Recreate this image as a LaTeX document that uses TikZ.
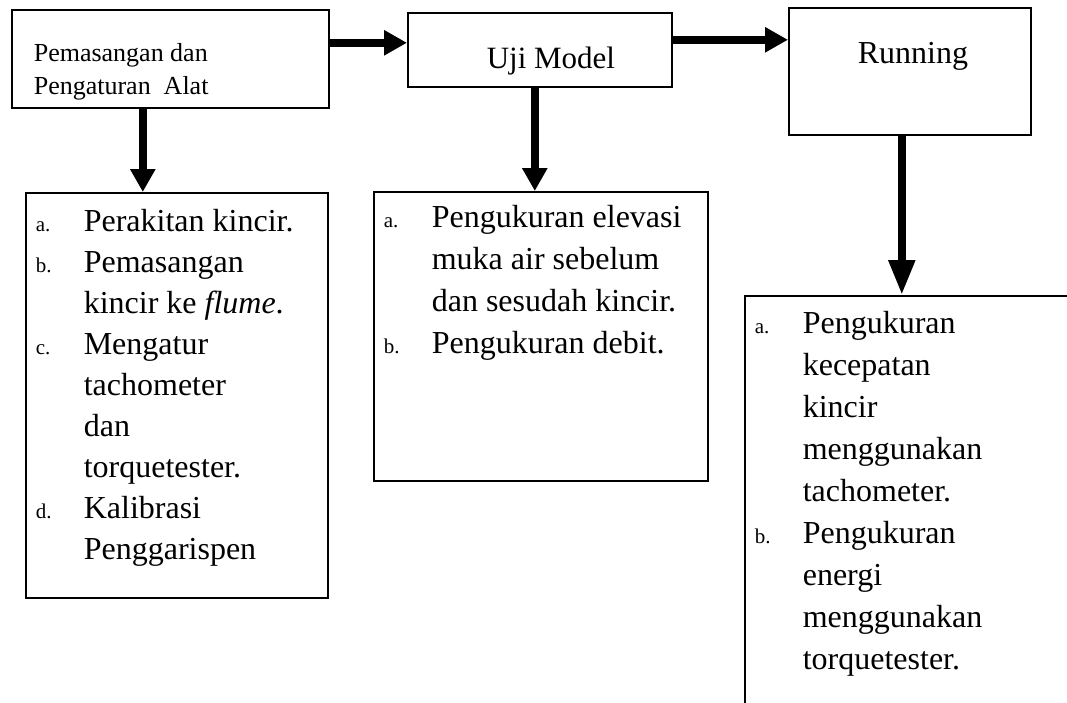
\documentclass[tikz,border=0pt]{standalone}
\usepackage{fontspec}
\setmainfont{Liberation Serif}
\usetikzlibrary{arrows.meta}

% text block of a box: height, width, drop to first baseline, lines
\newcommand{\boxbody}[4]{\parbox[t][#1][t]{#2}{\raggedright\rule{0pt}{#3}#4}}
\newcommand{\lbl}[1]{\makebox[58pt][l]{\hspace*{10pt}{\fontsize{21pt}{21pt}\selectfont #1}}}
\newcommand{\cont}{\hspace*{58pt}}

\begin{document}
\begin{tikzpicture}[x=1pt, y=-1pt,
  box/.style={draw, line width=1.6pt, anchor=north west, inner sep=0pt},
  flow/.style={-{Triangle[length=23pt,width=24pt]}, line width=8pt},
  longflow/.style={-{Triangle[length=35pt,width=25pt]}, line width=8pt}]

\useasboundingbox (0,0) rectangle (1067,702);

% Position the nodes at their coordinates
\node[box, font=\fontsize{26pt}{33pt}\selectfont] (alat) at (11,9)
  {\boxbody{98pt}{317pt}{52pt}{\hspace*{22pt}Pemasangan dan\\
   \hspace*{22pt}Pengaturan\ \ Alat}};
\node[box, font=\fontsize{31pt}{31pt}\selectfont] (ujiModel) at (407,12)
  {\boxbody{74pt}{264pt}{56pt}{\hspace*{79pt}Uji Model}};
\node[box, font=\fontsize{32pt}{32pt}\selectfont] (running) at (788,7)
  {\boxbody{127pt}{242pt}{56pt}{\hspace*{69pt}Running}};

\node[box, font=\fontsize{32pt}{41pt}\selectfont] (alatTugas) at (25,192)
  {\boxbody{405pt}{302pt}{39pt}{\lbl{a.}Perakitan kincir.\\
   \lbl{b.}Pemasangan\\
   \cont kincir ke \textit{flume}.\\
   \lbl{c.}Mengatur\\
   \cont tachometer\\
   \cont dan\\
   \cont torquetester.\\
   \lbl{d.}Kalibrasi\\
   \cont Penggarispen}};
\node[box, font=\fontsize{32pt}{42pt}\selectfont] (ujiTugas) at (373,191)
  {\boxbody{289pt}{334pt}{36pt}{\lbl{a.}Pengukuran elevasi\\
   \cont muka air sebelum\\
   \cont dan sesudah kincir.\\
   \lbl{b.}Pengukuran debit.}};
\node[box, font=\fontsize{32pt}{42pt}\selectfont] (runningTugas) at (744,295)
  {\boxbody{450pt}{400pt}{38pt}{\lbl{a.}Pengukuran\\
   \cont kecepatan\\
   \cont kincir\\
   \cont menggunakan\\
   \cont tachometer.\\
   \lbl{b.}Pengukuran\\
   \cont energi\\
   \cont menggunakan\\
   \cont torquetester.}};

% Draw the arrows between the nodes
\draw[flow] ([yshift=16pt]alat.east) coordinate (a1) -- (a1 -| ujiModel.west);
\draw[flow] ([yshift=10pt]ujiModel.east) coordinate (a2) -- (a2 -| running.west);
\draw[flow] ([xshift=-27.5pt]alat.south) coordinate (a3) -- (a3 |- alatTugas.north);
\draw[flow] ([xshift=-5pt]ujiModel.south) coordinate (a4) -- (a4 |- ujiTugas.north);
\draw[longflow] ([xshift=-8pt]running.south) coordinate (a5) -- (a5 |- runningTugas.north);

\end{tikzpicture}
\end{document}
